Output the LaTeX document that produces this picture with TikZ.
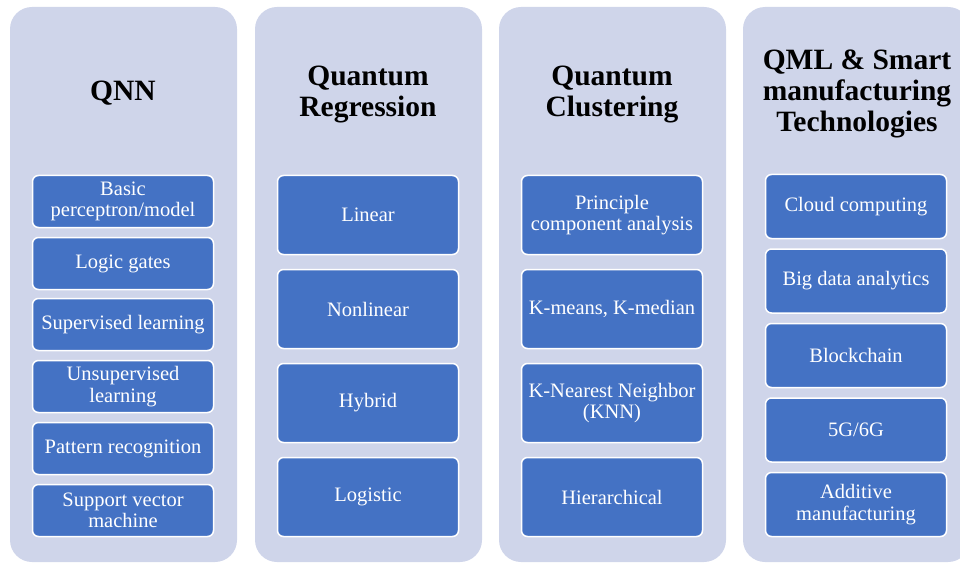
\documentclass[tikz,border=0pt]{standalone}
\usepackage{fontspec}
\setmainfont{Liberation Serif}
\definecolor{panelbg}{HTML}{CFD5EA}
\definecolor{itemblue}{HTML}{4472C4}

\begin{document}
\begin{tikzpicture}[x=1pt,y=-1pt,
	panel/.style={fill=panelbg, rounded corners=22pt},
	heading/.style={align=center, font=\fontsize{29.5}{31}\selectfont\bfseries},
	item/.style={draw=white, line width=1.5pt, fill=itemblue, rounded corners=6pt, text=white, align=center, inner sep=0pt, minimum width=181pt, font=\fontsize{20.5}{21.5}\selectfont},
	itemA/.style={item, minimum height=52pt},
	itemB/.style={item, minimum height=79pt},
	itemC/.style={item, minimum height=64pt}]

	\clip (0,0) rectangle (960,564);

	% background panels
	\fill[panel] (10,7) rectangle (237,562);
	\fill[panel] (255,7) rectangle (482,562);
	\fill[panel] (499,7) rectangle (726,562);
	\fill[panel] (743,7) rectangle (970,562);

	% QNN
	\node[heading] (qnn) at (123,93) {QNN};
	\node[itemA] (qnn1) at (123,201.5) {Basic\\perceptron/model};
	\node[itemA] (qnn2) at (123,263.5) {Logic gates};
	\node[itemA] (qnn3) at (123,324.5) {Supervised learning};
	\node[itemA] (qnn4) at (123,386.5) {Unsupervised\\learning};
	\node[itemA] (qnn5) at (123,448.5) {Pattern recognition};
	\node[itemA] (qnn6) at (123,510.5) {Support vector\\machine};

	% Quantum Regression
	\node[heading] (reg) at (368,94) {Quantum\\Regression};
	\node[itemB] (reg1) at (368,215) {Linear};
	\node[itemB] (reg2) at (368,309) {Nonlinear};
	\node[itemB] (reg3) at (368,403) {Hybrid};
	\node[itemB] (reg4) at (368,497) {Logistic};

	% Quantum Clustering
	\node[heading] (clu) at (612,94) {Quantum\\Clustering};
	\node[itemB] (clu1) at (612,215) {Principle\\component analysis};
	\node[itemB] (clu2) at (612,309) {K-means, K-median};
	\node[itemB] (clu3) at (612,403) {K-Nearest Neighbor\\(KNN)};
	\node[itemB] (clu4) at (612,497) {Hierarchical};

	% QML & smart manufacturing
	\node[heading] (qml) at (857,94) {QML \& Smart\\manufacturing\\Technologies};
	\node[itemC] (qml1) at (856,206.5) {Cloud computing};
	\node[itemC] (qml2) at (856,281) {Big data analytics};
	\node[itemC] (qml3) at (856,355.5) {Blockchain};
	\node[itemC] (qml4) at (856,430) {5G/6G};
	\node[itemC] (qml5) at (856,504.5) {Additive\\manufacturing};

\end{tikzpicture}
\end{document}
